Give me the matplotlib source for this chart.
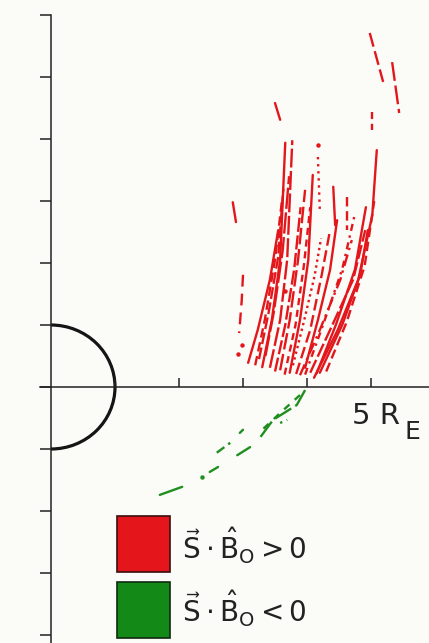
import matplotlib
matplotlib.use('Agg')
import matplotlib.pyplot as plt
from matplotlib.patches import Arc, Rectangle

plt.rcParams['mathtext.fontset'] = 'dejavusans'

# Spurabschnitte (x, y in R_E), S.B0 > 0
red_x = [
    [4.11, 4.48, 4.80, 5.02, 5.09],
    [4.20, 4.55, 4.83, 4.95],
    [4.05, 4.36, 4.72, 4.91],
    [3.97, 4.17, 4.36, 4.47],
    [3.83, 4.05, 4.23, 4.36],
    [3.73, 3.89, 4.02, 4.09],
    [3.58, 3.73, 3.86, 3.97],
    [3.42, 3.58, 3.69, 3.77],
    [3.30, 3.45, 3.58, 3.66],
    [3.19, 3.34, 3.50, 3.61],
    [3.08, 3.23, 3.42, 3.55],
    [3.89, 4.20, 4.52, 4.70],
    [4.41, 4.44],
    [4.63, 4.63],
    [4.17, 4.20],
    [3.50, 3.58],
    [2.84, 2.89],
    [3.00, 2.98, 2.94],
    [4.98, 5.19],
    [5.33, 5.44],
    [5.02, 5.02],
    [3.50, 3.66, 3.80, 3.90],
    [3.97, 4.25, 4.55, 4.75],
    [3.35, 3.48, 3.62, 3.72],
    [4.30, 4.62, 4.90, 5.05],
    [3.25, 3.40, 3.55, 3.63],
    [3.65, 3.82, 3.95, 4.05],
    [4.15, 4.45, 4.75, 4.92],
    [3.78, 3.95, 4.12, 4.22],
]
red_y = [
    [0.15, 0.92, 1.73, 2.77, 3.82],
    [0.23, 1.00, 1.81, 2.53],
    [0.23, 0.92, 1.73, 2.53],
    [0.31, 1.08, 1.89, 2.69],
    [0.21, 0.92, 1.81, 2.53],
    [0.23, 1.08, 2.05, 3.42],
    [0.27, 1.08, 2.05, 3.18],
    [0.31, 1.08, 2.05, 3.98],
    [0.32, 1.08, 2.05, 3.94],
    [0.35, 1.08, 2.05, 3.02],
    [0.39, 0.92, 1.73, 2.53],
    [0.19, 0.92, 1.73, 2.37],
    [3.23, 2.61],
    [3.06, 2.53],
    [3.71, 2.85],
    [4.58, 4.31],
    [2.98, 2.66],
    [1.81, 1.40, 0.87],
    [5.71, 4.92],
    [5.24, 4.42],
    [4.44, 4.15],
    [0.25, 1.00, 1.90, 2.90],
    [0.20, 1.00, 1.90, 2.80],
    [0.50, 1.20, 2.20, 3.40],
    [0.25, 1.05, 1.95, 3.00],
    [0.45, 1.20, 2.10, 3.20],
    [0.20, 1.00, 1.95, 2.90],
    [0.22, 1.00, 1.90, 2.90],
    [0.35, 1.05, 1.80, 2.40],
]
red_ls = ['-', '-', (0, (6, 1.5)), '-', (0, (5, 2)), '-', (0, (7, 2)),
          (0, (8, 1.5)), '-', (0, (4, 2)), '-', (0, (5, 2, 1, 2)),
          '-', (0, (4, 2)), (0, (1, 2)), '-', '-', (0, (5, 3)),
          (0, (6, 2)), (0, (8, 2)), (0, (3, 2)), (0, (6, 1.5)),
          (0, (3, 2, 1, 2)), (0, (9, 1.5)), (0, (4, 2)),
          (0, (5, 1.5)), (0, (3, 2)), '-', (0, (1, 1.5))]
red_dots_x = [2.98, 2.92, 4.17, 3.66]
red_dots_y = [0.68, 0.53, 3.90, 1.55]

# S.B0 < 0
green_x = [
    [3.97, 3.84, 3.47, 3.27],
    [3.89, 3.60, 3.30],
    [3.00, 2.95],
    [2.59, 2.80],
    [2.91, 3.11],
    [2.48, 2.61],
    [1.70, 2.05],
    [3.58, 3.69],
]
green_y = [
    [-0.05, -0.29, -0.53, -0.81],
    [-0.13, -0.40, -0.69],
    [-0.69, -0.74],
    [-1.06, -0.90],
    [-1.10, -0.97],
    [-1.37, -1.29],
    [-1.74, -1.61],
    [-0.58, -0.53],
]
green_ls = [(0, (8, 2)), (0, (3, 3)), '-', (0, (4, 2)), '-', '-', '-', (0, (1, 2))]
green_dots_x = [2.36]
green_dots_y = [-1.45]

rot = '#e3161b'
gruen = '#1f8f1f'

fig = plt.figure(figsize=(4.29, 6.43), dpi=100, facecolor='#fbfbf8')
ax = fig.add_axes([0, 0, 1, 1])
ax.set_facecolor('#fbfbf8')

for xs, ys, ls in zip(red_x, red_y, red_ls):
    ax.plot(xs, ys, color=rot, lw=1.7, ls=ls, solid_capstyle='round')
ax.plot(red_dots_x, red_dots_y, 'o', color=rot, ms=2.2)

for xs, ys, ls in zip(green_x, green_y, green_ls):
    ax.plot(xs, ys, color=gruen, lw=1.7, ls=ls, solid_capstyle='round')
ax.plot(green_dots_x, green_dots_y, 'o', color=gruen, ms=2.2)

# Erde
ax.add_patch(Arc((0, 0), 2, 2, theta1=-90, theta2=90, color='#151515', lw=2.3))

ax.set_xlim(-0.797, 5.906)
ax.set_ylim(-4.129, 6.242)
for s in ['top', 'right']:
    ax.spines[s].set_visible(False)
ax.spines['left'].set_position(('data', 0))
ax.spines['bottom'].set_position(('data', 0))
ax.spines['left'].set_bounds(-4.2, 6)
ax.spines['bottom'].set_bounds(-0.17, 5.9)
for s in ['left', 'bottom']:
    ax.spines[s].set_linewidth(1.1)
    ax.spines[s].set_color('#222222')
ax.set_xticks([1, 2, 3, 4, 5])
ax.set_yticks(range(-4, 7))
ax.tick_params(axis='x', direction='in', length=6.5, width=1.1, color='#222222',
               labelbottom=False)
ax.tick_params(axis='y', direction='out', length=8, width=1.1, color='#222222',
               labelleft=False)

ax.text(4.70, -0.47, '5 R', fontsize=21, va='center', ha='left', color='#222222')
ax.text(5.53, -0.72, 'E', fontsize=18, va='center', ha='left', color='#222222')

# Legende
ax.add_patch(Rectangle((0.273, 0.110), 0.124, 0.087, transform=ax.transAxes,
                       facecolor='#e5161b', edgecolor='#3a1010', lw=1.2))
ax.add_patch(Rectangle((0.273, 0.008), 0.124, 0.087, transform=ax.transAxes,
                       facecolor='#138a17', edgecolor='#102a10', lw=1.2))
ax.text(0.424, 0.152, r'$\vec{\mathrm{S}}\cdot\hat{\mathrm{B}}_{\mathrm{O}}>0$',
        transform=ax.transAxes, fontsize=20, va='center', ha='left', color='#222222')
ax.text(0.424, 0.054, r'$\vec{\mathrm{S}}\cdot\hat{\mathrm{B}}_{\mathrm{O}}<0$',
        transform=ax.transAxes, fontsize=20, va='center', ha='left', color='#222222')

fig.savefig('out.png', dpi=100, facecolor=fig.get_facecolor())
